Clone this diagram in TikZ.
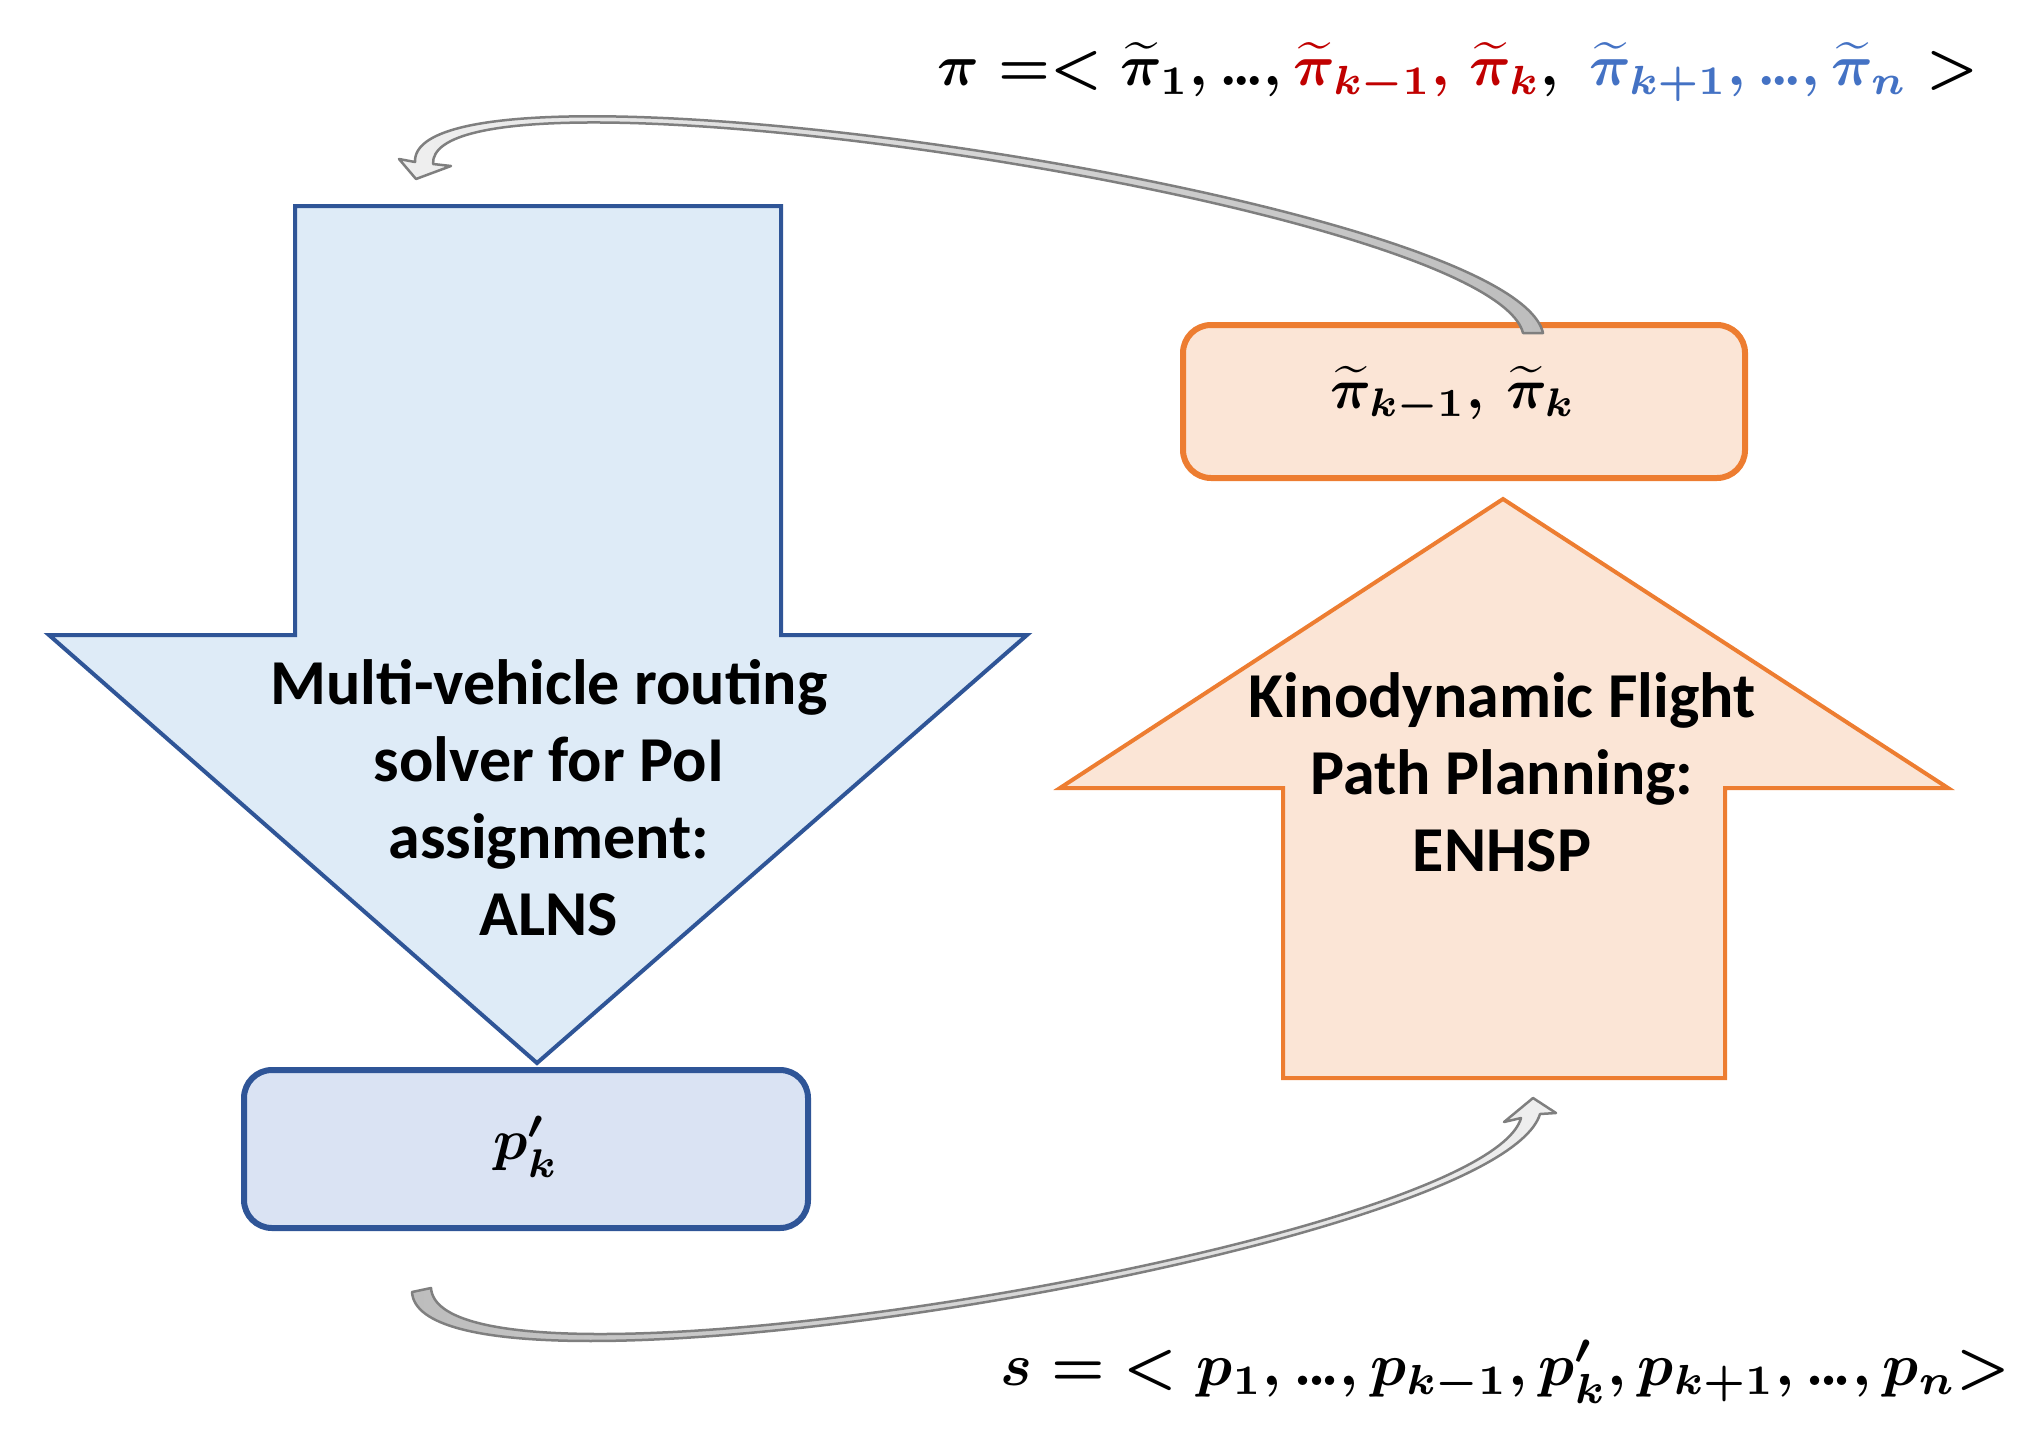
\documentclass[tikz,border=0pt]{standalone}
\usepackage{fontspec}
\usepackage{amsmath}
\newfontfamily\calib{Carlito}
\definecolor{bordblue}{HTML}{2F5597}
\definecolor{fillblue}{HTML}{DEEBF7}
\definecolor{boxblue}{HTML}{DAE3F3}
\definecolor{bordorange}{HTML}{ED7D31}
\definecolor{fillorange}{HTML}{FBE5D6}
\definecolor{arrgray}{HTML}{7F7F7F}
\definecolor{arrdark}{HTML}{BDBDBD}
\definecolor{arrlight}{HTML}{EFEFEF}
\definecolor{myred}{HTML}{C00000}
\definecolor{myblue}{HTML}{4472C4}
\newcommand{\tdots}{\mathord{.\mkern-1.5mu.\mkern-1.5mu.}}
\begin{document}
\begin{tikzpicture}[x=0.5pt,y=-0.5pt,
  bluearrow/.style={draw=bordblue, fill=fillblue, line width=2pt, line join=miter},
  orangearrow/.style={draw=bordorange, fill=fillorange, line width=2pt, line join=miter},
  bluebox/.style={draw=bordblue, fill=boxblue, line width=3pt, rounded corners=14pt, minimum width=282pt, minimum height=79pt, inner sep=0pt},
  orangebox/.style={draw=bordorange, fill=fillorange, line width=3pt, rounded corners=14pt, minimum width=281pt, minimum height=76.5pt, inner sep=0pt},
  curvearrow/.style={draw=arrgray, line width=1.25pt, line join=round},
  labeltext/.style={font=\calib\bfseries\fontsize{32}{38.5}\selectfont, align=center, text=black, inner sep=0pt},
  mathlabel/.style={inner sep=0pt, text=black}
]
\useasboundingbox (0,0) rectangle (2021,1429);

% big arrows
\path[bluearrow] (295,206) -- (781,206) -- (781,635) -- (1027,635) -- (537,1063) -- (49,635) -- (295,635) -- cycle;
\path[orangearrow] (1503,499) -- (1948,788) -- (1725,788) -- (1725,1078) -- (1283,1078) -- (1283,788) -- (1060,788) -- cycle;

\node[labeltext] (alns) at (549,798) {Multi-vehicle routing\\solver for PoI\\assignment:\\ALNS};
\node[labeltext] (enhsp) at (1502,772) {Kinodynamic Flight\\Path Planning:\\ENHSP};

% boxes
\node[orangebox] (pibox) at (1464,401.5) {};
\node[bluebox] (pbox) at (526,1149) {};
\node[mathlabel] (pilabel) at (1453,395) {\resizebox{122.5pt}{!}{\boldmath$\widetilde{\pi}_{k-1},\,\widetilde{\pi}_{k}$}};
\node[mathlabel] (plabel) at (526,1147) {\resizebox{32.5pt}{!}{\boldmath$p'_{k}$}};

% formulas
\node[mathlabel] (piseq) at (1458,72) {\resizebox{520pt}{!}{\boldmath$\pi =< \widetilde{\pi}_{1}, \tdots, {\color{myred}\widetilde{\pi}_{k-1},}\ {\color{myred}\widetilde{\pi}_{k}},\ {\color{myblue}\widetilde{\pi}_{k+1}, \tdots, \widetilde{\pi}_{n}} >$}};
\node[mathlabel] (sseq) at (1505,1372) {\resizebox{505pt}{!}{\boldmath$s = \;< p_{1}, \tdots, p_{k-1}, p'_{k}, p_{k+1}, \tdots, p_{n}{>}$}};

% curved arrows
\coordinate (topbaseR) at (1543,333);
\coordinate (topbaseL) at (1523,333);
\coordinate (topnotchO) at (415,162);
\coordinate (topnotchI) at (433,164);
\path[curvearrow, left color=arrlight, right color=arrdark]
  (topbaseR) .. controls (1512,196) and (410,36) .. (topnotchO)
  -- (399,159) -- (416,179) -- (451,166) -- (topnotchI)
  .. controls (428,46) and (1490,204) .. (topbaseL) -- cycle;

\coordinate (botbaseO) at (412,1292);
\coordinate (botbaseI) at (431,1288);
\coordinate (botnotchO) at (1540,1114);
\coordinate (botnotchI) at (1521,1118);
\path[curvearrow, left color=arrdark, right color=arrlight]
  (botbaseO) .. controls (420,1428) and (1498,1252) .. (botnotchO)
  -- (1556,1113) -- (1533,1098) -- (1504,1122) -- (botnotchI)
  .. controls (1486,1244) and (440,1418) .. (botbaseI) -- cycle;
\end{tikzpicture}
\end{document}
